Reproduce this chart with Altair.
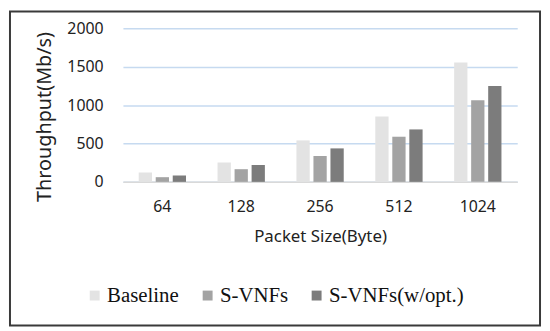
import altair as alt
import pandas as pd

sizes = ["64", "128", "256", "512", "1024"]
series = ["Baseline", "S-VNFs", "S-VNFs(w/opt.)"]
baseline = [122, 251, 540, 851, 1554]
svnfs = [61, 165, 337, 588, 1062]
svnfs_opt = [83, 220, 436, 683, 1248]
colors = ["#e3e3e3", "#a3a3a3", "#7c7c7c"]

rows = []
for name, vals in zip(series, [baseline, svnfs, svnfs_opt]):
    for s, v in zip(sizes, vals):
        rows.append({"size": s, "series": name, "value": v})
df = pd.DataFrame(rows)

bars = alt.Chart(df).mark_bar().encode(
    x=alt.X("size:N", sort=sizes,
            scale=alt.Scale(paddingInner=0.4, paddingOuter=0.2),
            axis=alt.Axis(title="Packet Size(Byte)", labelAngle=0, ticks=False,
                          labelFont="Noto Sans", labelFontSize=16, labelColor="#222222",
                          labelPadding=17, domainColor="#d9d9d9", domainWidth=1.5,
                          titleFont="Noto Sans", titleFontSize=17, titleFontWeight="normal",
                          titleColor="#222222", titlePadding=14)),
    xOffset=alt.XOffset("series:N", sort=series, scale=alt.Scale(paddingInner=0.22)),
    y=alt.Y("value:Q", scale=alt.Scale(domain=[0, 2000]),
            axis=alt.Axis(values=[0, 500, 1000, 1500, 2000], format="d",
                          title="Throughput(Mb/s)",
                          ticks=False, domain=False, labelFont="Noto Sans", labelFontSize=16,
                          labelColor="#222222", labelPadding=20,
                          gridColor="#c6daf0", gridWidth=1.5,
                          titleFont="Noto Sans", titleFontSize=20, titleFontWeight="normal",
                          titleColor="#222222", titleX=-69, titleY=89)),
    color=alt.Color("series:N", sort=series,
                    scale=alt.Scale(domain=series, range=colors),
                    legend=alt.Legend(title=None, orient="none", direction="horizontal",
                                      legendX=-39, legendY=259, symbolType="square",
                                      symbolSize=100, symbolStrokeWidth=0,
                                      labelFont="Liberation Serif", labelFontSize=21,
                                      labelColor="#111111", labelOffset=2,
                                      columnPadding=18)),
)

frame = alt.Chart(alt.Data(values=[{}])).mark_rect(
    fill="transparent", stroke="#3a3a3a", strokeWidth=2
).encode(
    x=alt.value(-114), x2=alt.value(421), y=alt.value(-17), y2=alt.value(300)
)

chart = alt.layer(bars, frame).properties(
    width=398, height=155,
    autosize=alt.AutoSizeParams(type="none"),
    padding={"left": 116, "top": 19, "right": 25, "bottom": 146},
).configure_view(stroke=None)

chart.save("out.html", embed_options={"renderer": "svg", "actions": False})
